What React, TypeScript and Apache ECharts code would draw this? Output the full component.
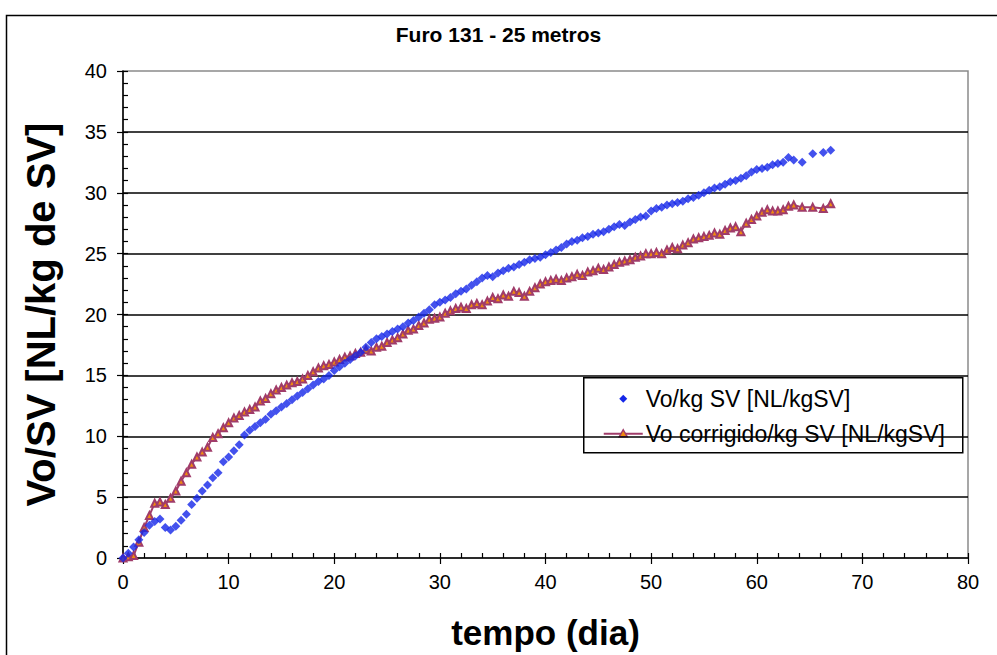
import React, { useEffect, useRef } from "react";
import * as echarts from "echarts";

const titleText = "Furo 131 - 25 metros";
const xAxisName = "tempo (dia)";
const yAxisName = "Vo/SV [NL/kg de SV]";
const seriesNames = ["Vo/kg SV [NL/kgSV]", "Vo corrigido/kg SV [NL/kgSV]"];

const days = [
  0, 0.5, 1, 1.5, 2, 2.5, 3, 3.5, 4, 4.5, 5, 5.5, 6, 6.5, 7, 7.5, 8, 8.5, 9, 9.5,
  10, 10.5, 11, 11.5, 12, 12.5, 13, 13.5, 14, 14.5, 15, 15.5, 16, 16.5, 17, 17.5, 18, 18.5, 19, 19.5,
  20, 20.5, 21, 21.5, 22, 22.5, 23, 23.5, 24, 24.5, 25, 25.5, 26, 26.5, 27, 27.5, 28, 28.5, 29, 29.5,
  30, 30.5, 31, 31.5, 32, 32.5, 33, 33.5, 34, 34.5, 35, 35.5, 36, 36.5, 37, 37.5, 38, 38.5, 39, 39.5,
  40, 40.5, 41, 41.5, 42, 42.5, 43, 43.5, 44, 44.5, 45, 45.5, 46, 46.5, 47, 47.5, 48, 48.5, 49, 49.5,
  50, 50.5, 51, 51.5, 52, 52.5, 53, 53.5, 54, 54.5, 55, 55.5, 56, 56.5, 57, 57.5, 58, 58.5, 59, 59.5,
  60, 60.5, 61, 61.5, 62, 62.5, 63, 63.5, 64.3, 65.3, 66.3, 67,
];

const voKgSV = [
  0, 0.4, 0.9, 1.5, 2.1, 2.7, 3.0, 3.2, 2.5, 2.3, 2.6, 3.1, 3.6, 4.4, 4.9, 5.5, 6.0, 6.6, 7.0, 7.9,
  8.3, 8.8, 9.3, 10.1, 10.5, 10.8, 11.1, 11.4, 11.8, 12.1, 12.4, 12.7, 13.0, 13.3, 13.6, 13.9, 14.2, 14.5, 14.7, 15.0,
  15.4, 15.7, 16.0, 16.3, 16.6, 16.9, 17.3, 17.7, 18.0, 18.2, 18.4, 18.6, 18.8, 19.0, 19.3, 19.5, 19.8, 20.1, 20.4, 20.8,
  21.0, 21.2, 21.4, 21.7, 21.9, 22.1, 22.4, 22.7, 23.0, 23.2, 23.1, 23.4, 23.6, 23.8, 23.9, 24.1, 24.3, 24.5, 24.6, 24.7,
  24.9, 25.1, 25.3, 25.5, 25.8, 26.0, 26.1, 26.3, 26.4, 26.6, 26.7, 26.8, 27.0, 27.2, 27.4, 27.3, 27.6, 27.8, 28.0, 28.1,
  28.5, 28.7, 28.8, 29.0, 29.1, 29.2, 29.3, 29.5, 29.6, 29.8, 30.0, 30.2, 30.4, 30.5, 30.7, 30.9, 31.0, 31.2, 31.4, 31.7,
  31.9, 32.0, 32.1, 32.3, 32.4, 32.5, 32.9, 32.7, 32.5, 33.2, 33.3, 33.5,
];

const voCorrigido = [
  0, 0.1, 0.2, 1.3, 2.5, 3.5, 4.5, 4.6, 4.4, 4.9, 5.5, 6.3, 7.0, 7.7, 8.3, 8.7, 9.1, 9.9, 10.2, 10.7,
  11.1, 11.5, 11.7, 12.0, 12.2, 12.4, 12.9, 13.1, 13.5, 13.8, 14.0, 14.2, 14.4, 14.5, 14.7, 15.0, 15.3, 15.6, 15.8, 15.9,
  16.1, 16.3, 16.5, 16.6, 16.8, 16.9, 17.1, 17.0, 17.3, 17.4, 17.7, 17.9, 18.1, 18.4, 18.7, 18.8, 19.1, 19.3, 19.6, 19.7,
  19.8, 20.1, 20.3, 20.5, 20.6, 20.5, 20.8, 20.9, 20.8, 21.1, 21.4, 21.3, 21.6, 21.5, 21.9, 21.8, 21.5, 21.9, 22.2, 22.5,
  22.7, 22.8, 22.9, 22.8, 23.0, 23.1, 23.3, 23.2, 23.5, 23.6, 23.8, 23.7, 23.9, 24.1, 24.3, 24.4, 24.5, 24.7, 24.8, 25.0,
  25.0, 25.1, 25.0, 25.3, 25.5, 25.4, 25.7, 25.9, 26.2, 26.3, 26.4, 26.5, 26.7, 26.6, 26.9, 27.1, 27.2, 26.8, 27.5, 27.8,
  28.1, 28.4, 28.6, 28.5, 28.5, 28.6, 28.9, 29.0, 28.8, 28.8, 28.7, 29.1,
];

const xTicks = { min: 0, max: 80, interval: 10 };
const yTicks = { min: 0, max: 40, interval: 5 };

const BLUE = "#1426e8";
const RED_LINE = "#a03c6a";
const RED_FILL = "#f08a10";

export default function App() {
  const ref = useRef<HTMLDivElement>(null);

  useEffect(() => {
    document.body.style.margin = "0";
    if (!ref.current) return;
    const chart = echarts.init(ref.current, undefined, { renderer: "svg" });
    const font = "'Liberation Sans', Arial, sans-serif";
    const blueData = days.map((d, i) => [d, voKgSV[i]]);
    const redData = days.map((d, i) => [d, voCorrigido[i]]);

    const lgX = 583;
    const lgY = 377;
    const lgW = 379;
    const lgH = 75;

    chart.setOption({
      animation: false,
      backgroundColor: "#ffffff",
      textStyle: { fontFamily: font },
      title: {
        text: titleText,
        left: "center",
        top: 19,
        textStyle: { fontFamily: font, fontSize: 21, fontWeight: "bold", color: "#000" },
      },
      graphic: [
        {
          type: "rect",
          left: 4,
          top: 13,
          shape: { x: 0, y: 0, width: 1010, height: 700 },
          style: { fill: "none", stroke: "#000", lineWidth: 1.5 },
          silent: true,
          z: 100,
        },
        {
          type: "group",
          left: lgX,
          top: lgY,
          z: 50,
          children: [
            {
              type: "rect",
              shape: { x: 0, y: 0, width: lgW, height: lgH },
              style: { fill: "#fff", stroke: "#000", lineWidth: 1.5 },
            },
            {
              type: "polygon",
              shape: { points: [[39.5, 17], [43.5, 21], [39.5, 25], [35.5, 21]] },
              style: { fill: BLUE },
            },
            {
              type: "text",
              x: 62,
              y: 21,
              style: { text: seriesNames[0], font: "23px 'Liberation Sans', Arial, sans-serif", fill: "#000", verticalAlign: "middle" },
            },
            {
              type: "line",
              shape: { x1: 20, y1: 56, x2: 59, y2: 56 },
              style: { stroke: RED_LINE, lineWidth: 2 },
            },
            {
              type: "polygon",
              shape: { points: [[39.5, 52], [43.5, 59], [35.5, 59]] },
              style: { fill: RED_FILL, stroke: RED_LINE, lineWidth: 1.5 },
            },
            {
              type: "text",
              x: 62,
              y: 56,
              style: { text: seriesNames[1], font: "23px 'Liberation Sans', Arial, sans-serif", fill: "#000", verticalAlign: "middle" },
            },
          ],
        },
      ],
      grid: {
        left: 123,
        top: 71,
        right: 29,
        bottom: 97,
        show: true,
        borderColor: "#8a8a8a",
        borderWidth: 1.5,
        backgroundColor: "transparent",
      },
      xAxis: [
        {
          type: "value",
          ...xTicks,
          name: xAxisName,
          nameLocation: "middle",
          nameGap: 57,
          nameTextStyle: { fontFamily: font, fontSize: 35, fontWeight: "bold", color: "#000" },
          axisLine: { show: true, onZero: false, lineStyle: { color: "#000", width: 1.5 } },
          axisTick: { show: true, inside: false, length: 6, lineStyle: { color: "#000", width: 1.2 } },
          axisLabel: { fontFamily: font, fontSize: 20, color: "#000", margin: 14 },
          splitLine: { show: false },
        },
        {
          type: "value",
          ...xTicks,
          position: "bottom",
          axisLine: { show: false },
          axisTick: { show: true, inside: true, length: 5, lineStyle: { color: "#000", width: 1.2 } },
          minorTick: { show: true, splitNumber: 5, length: 5, lineStyle: { color: "#000", width: 1.2 } },
          axisLabel: { show: false },
          splitLine: { show: false },
        },
      ],
      yAxis: [
        {
          type: "value",
          ...yTicks,
          name: yAxisName,
          nameLocation: "middle",
          nameGap: 62,
          nameTextStyle: { fontFamily: font, fontSize: 40, fontWeight: "bold", color: "#000" },
          axisLine: { show: true, onZero: false, lineStyle: { color: "#000", width: 1.5 } },
          axisTick: { show: true, inside: false, length: 6, lineStyle: { color: "#000", width: 1.2 } },
          axisLabel: { fontFamily: font, fontSize: 20, color: "#000", margin: 16 },
          splitLine: { show: true, showMinLine: false, showMaxLine: false, lineStyle: { color: "#000", width: 1.5 } },
        },
        {
          type: "value",
          ...yTicks,
          position: "left",
          axisLine: { show: false },
          axisTick: { show: true, inside: true, length: 5, lineStyle: { color: "#000", width: 1.2 } },
          minorTick: { show: true, splitNumber: 5, length: 5, lineStyle: { color: "#000", width: 1.2 } },
          axisLabel: { show: false },
          splitLine: { show: false },
        },
      ],
      series: [
        {
          name: seriesNames[1],
          type: "line",
          xAxisIndex: 0,
          yAxisIndex: 0,
          data: redData,
          symbol: "triangle",
          symbolSize: 7,
          showAllSymbol: true,
          lineStyle: { color: RED_LINE, width: 2 },
          itemStyle: { color: RED_FILL, borderColor: RED_LINE, borderWidth: 2 },
          z: 3,
        },
        {
          name: seriesNames[0],
          type: "scatter",
          xAxisIndex: 0,
          yAxisIndex: 0,
          data: blueData,
          symbol: "diamond",
          symbolSize: 9,
          itemStyle: { color: BLUE },
          z: 4,
        },
      ],
    });
    return () => chart.dispose();
  }, []);

  return <div ref={ref} style={{ position: "absolute", left: 0, top: 0, width: 997, height: 655 }} />;
}
